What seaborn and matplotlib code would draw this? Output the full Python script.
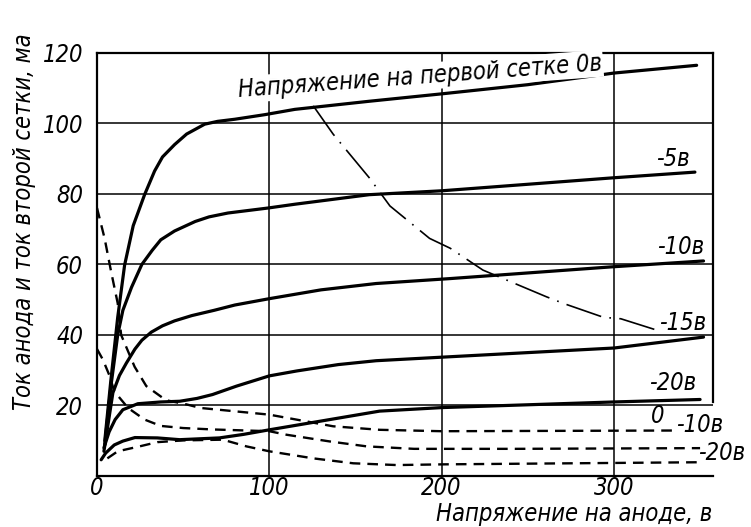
import seaborn as sns
import matplotlib.pyplot as plt

# anode current, ma (solid) for first-grid voltages 0, -5, -10, -15, -20 V
va_0 = [4.5, 8, 12, 16, 21, 27.6, 33.4, 38, 45, 52, 62.5, 70, 80, 97.4, 114.8, 158, 200, 250, 300, 348]
ia_0 = [10, 27, 45, 59.8, 71, 79.8, 86.5, 90.5, 94, 97, 99.8, 100.6, 101.2, 102.5, 104, 106.3, 108.4, 111, 114.3, 116.5]

va_5 = [4.5, 8.2, 12, 15, 20, 26, 32, 37, 45, 57, 65, 76, 99, 115, 158, 200, 300, 347]
ia_5 = [9, 26, 40, 47, 53.5, 60, 64, 67, 69.5, 72.2, 73.5, 74.6, 76, 77.1, 79.8, 80.9, 84.6, 86.2]

va_10 = [4, 5.3, 9.2, 13, 17, 22, 26, 31.5, 38, 45, 55, 68, 80, 100, 130, 162, 205, 298, 352]
ia_10 = [7, 11.2, 23.6, 28.5, 32, 36, 38.5, 40.8, 42.6, 44, 45.5, 47, 48.5, 50.3, 52.8, 54.6, 56, 59.3, 61]

va_15 = [4, 7, 10.5, 15, 23.7, 37, 48, 58, 67, 81, 100, 116, 140, 162, 200, 250, 300, 352]
ia_15 = [8, 12.5, 16, 18.8, 20.5, 21, 21.2, 22, 23.1, 25.5, 28.4, 29.8, 31.6, 32.7, 33.7, 35, 36.3, 39.4]

va_20 = [2.4, 5, 10, 15, 22, 35, 48, 71, 85, 100, 129, 164, 200, 300, 350]
ia_20 = [4.6, 6.5, 8.8, 9.9, 10.9, 10.8, 10.3, 10.8, 11.8, 13.1, 15.5, 18.4, 19.4, 21, 21.7]

# second grid current, ma (dashed) for first-grid voltages 0, -10, -20 V
vg_0 = [0, 4.4, 8.2, 12, 14, 21.8, 28.6, 40, 52, 60, 100, 137, 164, 200, 337]
ig_0 = [76, 67.4, 57.9, 49, 40, 31, 25.5, 21.5, 20.3, 19.3, 17.4, 14.1, 13.1, 12.7, 12.9]

vg_10 = [0, 3.4, 7.3, 10, 18, 27.6, 37, 50, 67, 100, 110, 135, 156.5, 184, 242, 350]
ig_10 = [36, 33, 28.4, 24, 19.3, 16, 14.2, 13.6, 13.2, 12.7, 11.7, 9.8, 8.4, 7.7, 7.7, 7.9]

vg_20 = [6, 12, 24.7, 35, 50, 73, 86.7, 100, 125.5, 148.7, 174, 201, 350]
ig_20 = [5, 7, 8.4, 9.6, 10.1, 10.3, 8.4, 7, 5, 3.6, 3.1, 3.3, 3.9]

# permissible dissipation limit (dash-dot)
v_max = [125.5, 137, 158, 170, 193, 205, 224, 261, 271, 294, 304, 326]
i_max = [105, 97, 84.6, 76.6, 67.4, 64.6, 58.4, 50.8, 48.9, 45, 44.6, 41.2]

x_ticks = [0, 100, 200, 300]
y_ticks = [20, 40, 60, 80, 100, 120]

sns.set_style("white")
plt.rcParams['font.family'] = ['DejaVu Sans']
plt.rcParams['text.color'] = 'black'
FONT = dict(family='DejaVu Sans', style='italic', stretch='condensed', size=17, color='black')

fig = plt.figure(figsize=(7.51, 5.27), dpi=100)
ax = fig.add_axes([0.1292, 0.0968, 0.8202, 0.8027])

solid = [(va_0, ia_0), (va_5, ia_5), (va_10, ia_10), (va_15, ia_15), (va_20, ia_20)]
for xs, ys in solid:
    sns.lineplot(x=xs, y=ys, ax=ax, color='black', lw=2.3, sort=False, estimator=None, zorder=3)

for xs, ys in [(vg_0, ig_0), (vg_10, ig_10), (vg_20, ig_20)]:
    sns.lineplot(x=xs, y=ys, ax=ax, color='black', lw=1.7, sort=False, estimator=None,
                 linestyle=(0, (4.5, 3)), zorder=3)

sns.lineplot(x=v_max, y=i_max, ax=ax, color='black', lw=1.2, sort=False, estimator=None,
             linestyle=(0, (22, 5, 1, 5)), zorder=3)

ax.set_xlim(0, 357.5)
ax.set_ylim(0, 120)
ax.set_xticks(x_ticks, labels=[str(t) for t in x_ticks], style='italic', stretch='condensed')
ax.set_yticks(y_ticks, labels=[str(t) for t in y_ticks], style='italic', stretch='condensed')
ax.tick_params(axis='both', length=0, labelsize=17, colors='black')
ax.tick_params(axis='y', pad=10)
ax.tick_params(axis='x', pad=0)
ax.grid(True, color='black', lw=1.1)
for side in ['left', 'right', 'top', 'bottom']:
    ax.spines[side].set_color('black')
    ax.spines[side].set_linewidth(1.6)
ax.spines['right'].set_bounds(21, 120)

# curve labels
ax.text(82, 107.5, 'Напряжение на первой сетке 0в', rotation=4.2, rotation_mode='anchor',
        ha='left', va='baseline', zorder=4,
        bbox=dict(facecolor='white', edgecolor='none', pad=1), **FONT)
ax.text(334, 90, '-5в', ha='center', va='center', **FONT)
ax.text(338.6, 64.9, '-10в', ha='center', va='center', **FONT)
ax.text(340, 43.4, '-15в', ha='center', va='center', **FONT)
ax.text(334, 26.3, '-20в', ha='center', va='center', **FONT)
ax.text(325.6, 17, '0', ha='center', va='center', **FONT)
ax.text(349.7, 14.6, '-10в', ha='center', va='center', **FONT)
ax.text(362.5, 6.6, '-20в', ha='center', va='center', clip_on=False, **FONT)

fig.text(0.949, 0.024, 'Напряжение на аноде, в', ha='right', va='center', **FONT)
fig.text(0.032, 0.579, 'Ток анода и ток второй сетки, ма', rotation=90,
         ha='center', va='center', **FONT)

fig.savefig('out.png', dpi=100)
